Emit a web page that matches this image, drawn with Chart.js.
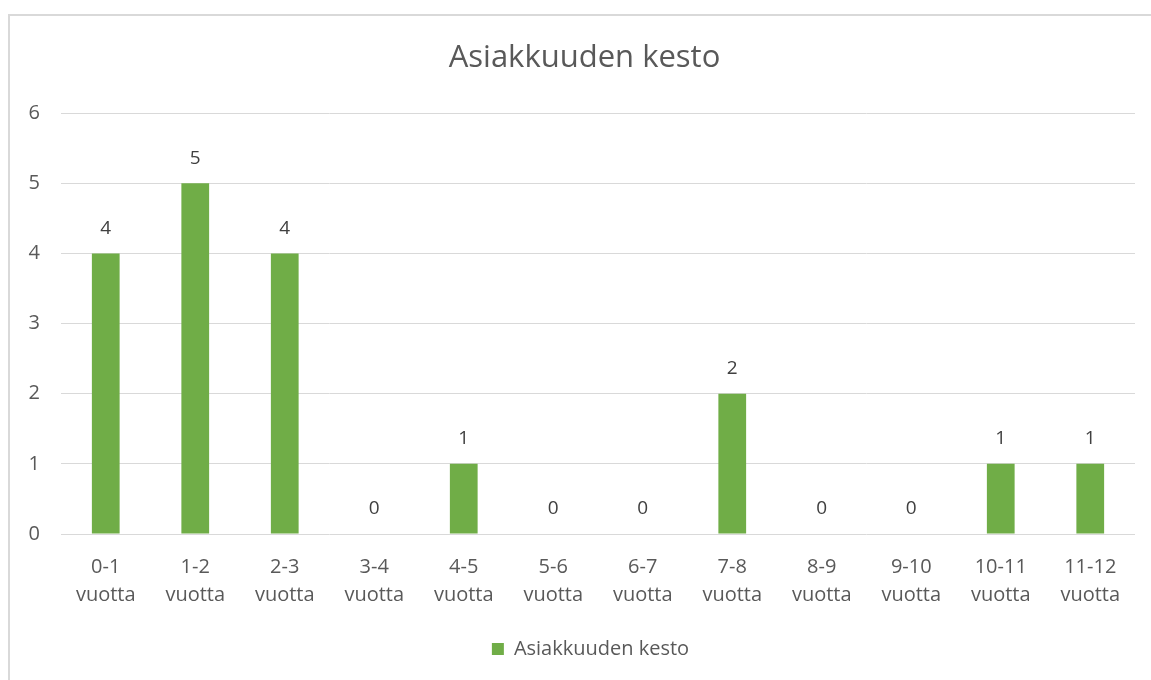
<!DOCTYPE html>
<html>
<head>
<meta charset="utf-8">
<script src="https://cdn.jsdelivr.net/npm/chart.js@4/dist/chart.umd.min.js"></script>
<style>
  html, body { margin: 0; padding: 0; background: #fff; overflow: hidden; width: 1151px; height: 680px; }
  #frame { position: absolute; left: 8px; top: 14px; width: 1151px; height: 664px; border: 2px solid #d9d9d9; border-right: none; border-bottom: none; }
  #wrap { position: absolute; left: 10px; top: 16px; width: 1151px; height: 664px; }
</style>
</head>
<body>
<div id="frame"></div>
<div id="wrap"><canvas id="c" width="1151" height="664"></canvas></div>
<script>
const chartTitle = "Asiakkuuden kesto";
const seriesName = "Asiakkuuden kesto";
const categories = [["0-1","vuotta"],["1-2","vuotta"],["2-3","vuotta"],["3-4","vuotta"],["4-5","vuotta"],["5-6","vuotta"],["6-7","vuotta"],["7-8","vuotta"],["8-9","vuotta"],["9-10","vuotta"],["10-11","vuotta"],["11-12","vuotta"]];
const values = [4, 5, 4, 0, 1, 0, 0, 2, 0, 0, 1, 1];
const yTicks = [0, 1, 2, 3, 4, 5, 6];

const FONT = "'Open Sans', 'Noto Sans', sans-serif";
const TEXT = "#595959";

const dataLabels = {
  id: 'dataLabels',
  afterDatasetsDraw(chart) {
    const ctx = chart.ctx;
    const meta = chart.getDatasetMeta(0);
    ctx.save();
    ctx.font = "19px " + FONT;
    ctx.fillStyle = "#404040";
    ctx.textAlign = "center";
    ctx.textBaseline = "middle";
    meta.data.forEach((bar, i) => {
      ctx.fillText(String(values[i]), bar.x, bar.y - 25);
    });
    ctx.restore();
  }
};

const centerShift = {
  id: 'centerShift',
  afterLayout(chart) {
    if (chart.titleBlock) { chart.titleBlock.left += 12; chart.titleBlock.right += 12; }
    if (chart.legend) { chart.legend.left += 18; chart.legend.right += 18; }
  }
};

new Chart(document.getElementById('c'), {
  type: 'bar',
  data: {
    labels: categories,
    datasets: [{
      label: seriesName,
      data: values,
      backgroundColor: "#70AD47",
      borderWidth: 0,
      categoryPercentage: 1,
      barPercentage: 0.31
    }]
  },
  options: {
    responsive: false,
    animation: false,
    devicePixelRatio: 1,
    layout: { padding: { left: 0, right: 26, top: 0, bottom: 11 } },
    plugins: {
      title: {
        display: true,
        text: chartTitle,
        color: TEXT,
        font: { family: FONT, size: 31, weight: 'normal', lineHeight: 1.2 },
        padding: { top: 24, bottom: 36 }
      },
      legend: {
        display: true,
        position: 'bottom',
        labels: {
          color: TEXT,
          font: { family: FONT, size: 20 },
          boxWidth: 12,
          boxHeight: 12,
          padding: 10
        }
      },
      tooltip: { enabled: false }
    },
    scales: {
      x: {
        grid: { display: false, drawTicks: false },
        border: { display: false },
        ticks: {
          color: TEXT,
          font: { family: FONT, size: 20, lineHeight: 1.4 },
          padding: 19,
          maxRotation: 0,
          autoSkip: false
        },
        afterFit(scale) { scale.height = 95; }
      },
      y: {
        min: 0,
        max: 6,
        afterBuildTicks(scale) { scale.ticks = yTicks.map(v => ({ value: v })); },
        grid: { color: "#d9d9d9", lineWidth: 1, drawTicks: false },
        border: { display: false },
        ticks: {
          color: TEXT,
          font: { family: FONT, size: 20 },
          padding: 21
        },
        afterFit(scale) { scale.width = 51; }
      }
    }
  },
  plugins: [dataLabels, centerShift]
});
</script>
</body>
</html>
